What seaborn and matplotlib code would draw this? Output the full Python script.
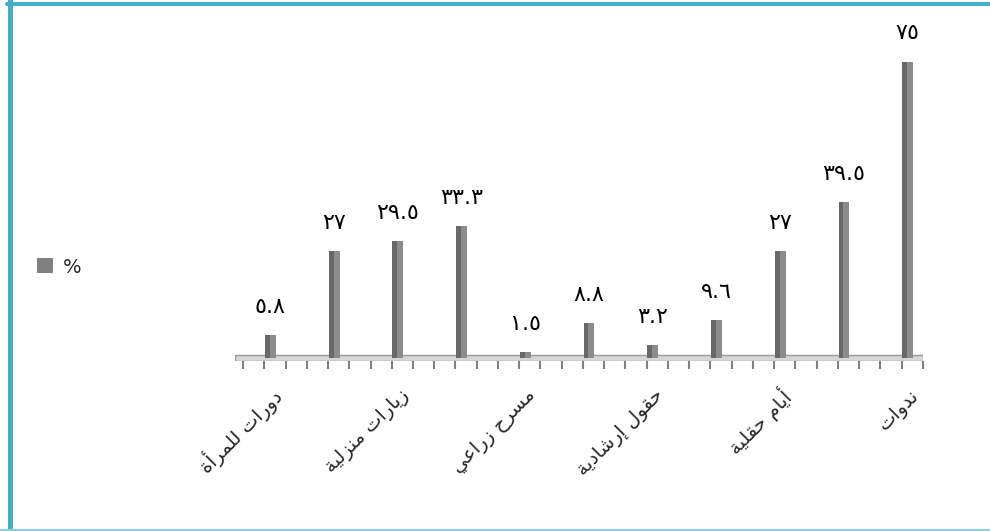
import numpy as np
import pandas as pd
import seaborn as sns
import matplotlib.pyplot as plt
from matplotlib.lines import Line2D
from matplotlib.transforms import ScaledTranslation

# values, left to right
values = [5.8, 27, 29.5, 33.3, 1.5, 8.8, 3.2, 9.6, 27, 39.5, 75]
value_labels = ['٥.٨', '٢٧', '٢٩.٥', '٣٣.٣', '١.٥', '٨.٨', '٣.٢', '٩.٦', '٢٧', '٣٩.٥', '٧٥']
# only every other category name is shown in the picture
tick_labels = ['دورات للمرأة', '', 'زيارات منزلية', '', 'مسرح زراعي', '',
               'حقول إرشادية', '', 'أيام حقلية', '', 'ندوات']
series_name = '%'

# matplotlib has no arabic shaping: map letters to presentation forms by hand
# (isolated, final, initial, medial)
FORMS = {
    'ا': ('\uFE8D', '\uFE8E', None, None),
    'أ': ('\uFE83', '\uFE84', None, None),
    'إ': ('\uFE87', '\uFE88', None, None),
    'ة': ('\uFE93', '\uFE94', None, None),
    'ت': ('\uFE95', '\uFE96', '\uFE97', '\uFE98'),
    'ح': ('\uFEA1', '\uFEA2', '\uFEA3', '\uFEA4'),
    'د': ('\uFEA9', '\uFEAA', None, None),
    'ر': ('\uFEAD', '\uFEAE', None, None),
    'ز': ('\uFEAF', '\uFEB0', None, None),
    'س': ('\uFEB1', '\uFEB2', '\uFEB3', '\uFEB4'),
    'ش': ('\uFEB5', '\uFEB6', '\uFEB7', '\uFEB8'),
    'ع': ('\uFEC9', '\uFECA', '\uFECB', '\uFECC'),
    'ق': ('\uFED5', '\uFED6', '\uFED7', '\uFED8'),
    'ل': ('\uFEDD', '\uFEDE', '\uFEDF', '\uFEE0'),
    'م': ('\uFEE1', '\uFEE2', '\uFEE3', '\uFEE4'),
    'ن': ('\uFEE5', '\uFEE6', '\uFEE7', '\uFEE8'),
    'و': ('\uFEED', '\uFEEE', None, None),
    'ي': ('\uFEF1', '\uFEF2', '\uFEF3', '\uFEF4'),
}

def shape(text):
    out = []
    for i, ch in enumerate(text):
        if ch not in FORMS:
            out.append(ch)
            continue
        iso, fin, ini, med = FORMS[ch]
        prev = text[i-1] if i > 0 else ''
        nxt = text[i+1] if i < len(text)-1 else ''
        jp = prev in FORMS and FORMS[prev][2] is not None
        jn = ini is not None and nxt in FORMS
        if jp and jn:
            out.append(med)
        elif jp:
            out.append(fin)
        elif jn:
            out.append(ini)
        else:
            out.append(iso)
    return ''.join(out)[::-1]

sns.set_theme(style='white')
plt.rcParams['font.family'] = ['DejaVu Sans']

pos = np.arange(len(values))
df = pd.DataFrame({'pos': pos, 'value': values})

fig = plt.figure(figsize=(9.9, 5.31), dpi=100)
ax = fig.add_axes([0.2374, 0.3202, 0.6949, 0.6011])

# 3d-ish floor
ax.axhspan(-0.8, 0.8, facecolor='#d6d6d6', edgecolor='#999999', lw=1, zorder=1)

sns.barplot(data=df, x='pos', y='value', native_scale=True, width=0.17,
            color='#686868', saturation=1, linewidth=0, label=series_name,
            ax=ax, zorder=3)
ax.bar(pos - 0.01, values, width=0.095, align='edge', color='#8c8c8c',
       linewidth=0, zorder=4)

for x, v, t in zip(pos, values, value_labels):
    ax.annotate(t, (x, v), xytext=(0, 13), textcoords='offset points',
                ha='center', va='bottom', fontsize=16, color='black')

ax.set_xlim(-0.556, 10.24)
ax.set_ylim(-0.8, 80)
ax.set_xlabel('')
ax.set_ylabel('')
ax.set_yticks([])
for s in ['top', 'right', 'left', 'bottom']:
    ax.spines[s].set_visible(False)

ax.set_xticks(pos)
ax.set_xticklabels([shape(t) for t in tick_labels], rotation=45, ha='right',
                   va='center', rotation_mode='anchor', fontsize=14)
ax.set_xticks(-0.43 + np.arange(33) / 3, minor=True)
ax.tick_params(axis='x', which='major', length=0, pad=23)
ax.tick_params(axis='x', which='minor', length=6, width=1.5, color='#808080',
               bottom=True, direction='out')
off = ScaledTranslation(8 / 100, 0, fig.dpi_scale_trans)
for lbl in ax.get_xticklabels():
    lbl.set_transform(lbl.get_transform() + off)

leg = ax.legend(loc='center left', bbox_to_anchor=(0.02, 0.497),
                bbox_transform=fig.transFigure, frameon=False, fontsize=14,
                handlelength=0.8, handleheight=0.8, handletextpad=0.5)
for p in leg.get_patches():
    p.set_facecolor('#808080')

# frame of the original picture
c = '#4bacc6'
fig.add_artist(Line2D([9.5 / 990, 9.5 / 990], [0, 1], color=c, lw=3.6,
                      transform=fig.transFigure))
fig.add_artist(Line2D([0.007, 1], [1 - 4 / 531, 1 - 4 / 531], color=c, lw=3,
                      transform=fig.transFigure))
fig.add_artist(Line2D([0, 1], [1 / 531, 1 / 531], color='#8fd0e0', lw=1.5,
                      transform=fig.transFigure))

fig.savefig('out.png', dpi=100)
